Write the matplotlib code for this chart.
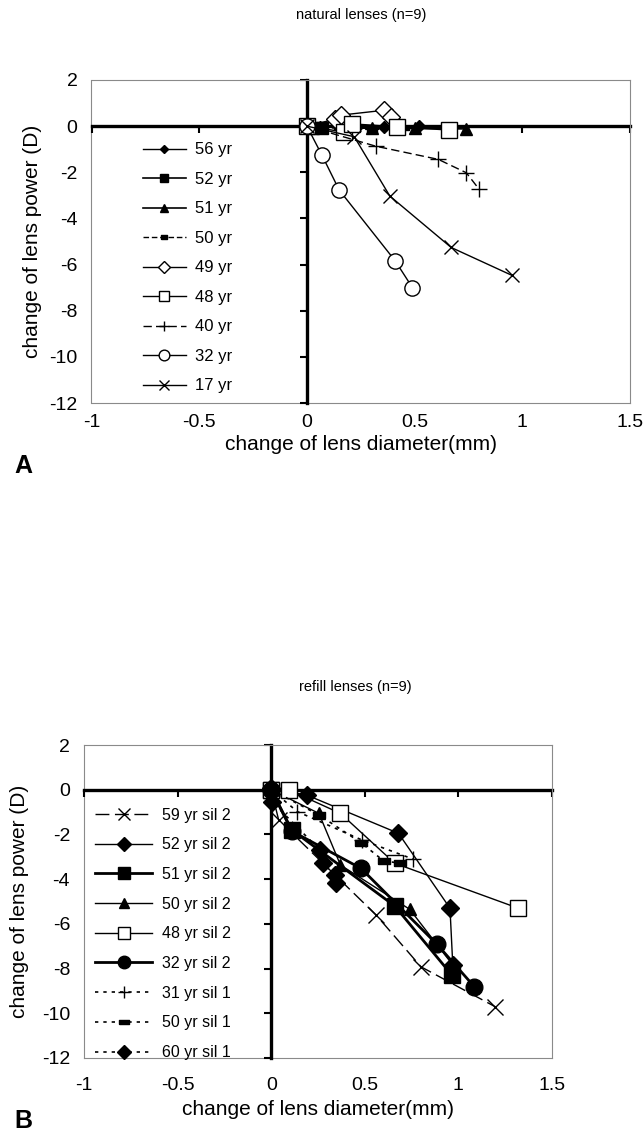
import numpy as np
import matplotlib.pyplot as plt
from matplotlib.path import Path

plt.rcParams['font.family'] = ['Liberation Sans', 'DejaVu Sans']

# ---- данные: A, натуральные хрусталики ----
nat_labels = ['56 yr', '52 yr', '51 yr', '50 yr', '49 yr', '48 yr', '40 yr', '32 yr', '17 yr']
nat_dx = [
    [0, 0.06, 0.2, 0.36, 0.52],
    [0, 0.03, 0.07],
    [0, 0.3, 0.5, 0.74],
    [0, 0.15, 0.3, 0.45],
    [0, 0.13, 0.16, 0.36, 0.39],
    [0, 0.17, 0.21, 0.42, 0.66],
    [0, 0.32, 0.61, 0.74, 0.80],
    [0, 0.07, 0.15, 0.41, 0.49],
    [0, 0.22, 0.385, 0.67, 0.95],
]
nat_dp = [
    [0, -0.05, -0.05, -0.05, 0.0],
    [0, -0.1, -0.1],
    [0, -0.1, -0.1, -0.12],
    [0, -0.1, -0.15, -0.1],
    [0, 0.3, 0.48, 0.69, 0.4],
    [0, -0.25, 0.1, -0.03, -0.17],
    [0, -0.87, -1.44, -2.02, -2.74],
    [0, -1.26, -2.77, -5.84, -7.0],
    [0, -0.46, -3.03, -5.26, -6.46],
]

# ---- данные: B, заполненные силиконом ----
ref_labels = ['59 yr sil 2', '52 yr sil 2', '51 yr sil 2', '50 yr sil 2', '48 yr sil 2',
              '32 yr sil 2', '31 yr sil 1', '50 yr sil 1', '60 yr sil 1']
ref_dx = [
    [0, 0.04, 0.56, 0.80, 1.195],
    [0, 0.19, 0.68, 0.955, 0.97],
    [0, 0.11, 0.66, 0.965],
    [0, 0.255, 0.37, 0.74, 0.97],
    [0, 0.095, 0.37, 0.66, 1.32],
    [0, 0.11, 0.48, 0.885, 1.085],
    [0, 0.14, 0.485, 0.76],
    [0, 0.255, 0.48, 0.6, 0.69],
    [0, 0.005, 0.26, 0.275, 0.34, 0.345],
]
ref_dp = [
    [0, -1.36, -5.6, -7.92, -9.7],
    [0.05, -0.24, -1.95, -5.3, -7.84],
    [0, -1.8, -5.2, -8.29],
    [0, -1.06, -3.37, -5.35, -7.84],
    [0, -0.01, -1.06, -3.29, -5.3],
    [0, -1.85, -3.52, -6.91, -8.81],
    [0, -0.98, -2.25, -3.11],
    [0, -1.13, -2.37, -3.18, -3.29],
    [0.06, -0.54, -2.70, -3.29, -3.81, -4.19],
]

x_ticks = [-1, -0.5, 0, 0.5, 1, 1.5]
y_ticks = [2, 0, -2, -4, -6, -8, -10, -12]

# плоский прямоугольный маркер
bar = Path([(-1, -0.45), (1, -0.45), (1, 0.45), (-1, 0.45), (-1, -0.45)])

nat_styles = [
    dict(marker='D', mfc='k', ms=6, ls='-', lw=1),
    dict(marker='s', mfc='k', ms=8, ls='-', lw=1.2),
    dict(marker='^', mfc='k', ms=8, ls='-', lw=1.2),
    dict(marker=bar, mfc='k', ms=7, ls=(0, (4, 2)), lw=1),
    dict(marker='D', mfc='w', ms=9, ls='-', lw=1),
    dict(marker='s', mfc='w', ms=11, ls='-', lw=1),
    dict(marker='+', mfc='k', ms=11, ls=(0, (6, 3)), lw=1),
    dict(marker='o', mfc='w', ms=11, ls='-', lw=1),
    dict(marker='x', mfc='k', ms=10, ls='-', lw=1),
]
ref_styles = [
    dict(marker='x', mfc='k', ms=11, ls=(0, (10, 4)), lw=1),
    dict(marker='D', mfc='k', ms=9, ls='-', lw=1),
    dict(marker='s', mfc='k', ms=12, ls='-', lw=2),
    dict(marker='^', mfc='k', ms=9, ls='-', lw=1),
    dict(marker='s', mfc='w', ms=12, ls='-', lw=1),
    dict(marker='o', mfc='k', ms=12, ls='-', lw=2),
    dict(marker='+', mfc='k', ms=12, ls=(0, (2, 3)), lw=1.2),
    dict(marker=bar, mfc='k', ms=9, ls=(0, (2, 3)), lw=1.2),
    dict(marker='D', mfc='k', ms=9, ls=(0, (2, 3)), lw=1.2),
]


def setup(ax, tpad, lpad, ypad):
    ax.set_xlim(-1, 1.5)
    ax.set_ylim(-12, 2)
    ax.spines['left'].set_position(('data', 0))
    ax.spines['bottom'].set_position(('data', 0))
    for s in ('left', 'bottom'):
        ax.spines[s].set_linewidth(2.4)
        ax.spines[s].set_zorder(1)
    for s in ('top', 'right'):
        ax.spines[s].set_color('#8a8a8a')
        ax.spines[s].set_linewidth(0.8)
    ax.set_xticks(x_ticks)
    ax.set_yticks(y_ticks)
    ax.tick_params(direction='out', length=5, width=1.5, labelleft=False, labelbottom=False)
    sx = ax.secondary_xaxis('bottom')
    sx.set_xticks(x_ticks, labels=[f'{v:g}' for v in x_ticks])
    sx.tick_params(length=0, labelsize=14, pad=tpad)
    sx.spines['bottom'].set_color('#8a8a8a')
    sx.spines['bottom'].set_linewidth(0.8)
    sy = ax.secondary_yaxis('left')
    sy.set_yticks(y_ticks, labels=[f'{v:g}' for v in y_ticks])
    sy.tick_params(length=0, labelsize=14, pad=10)
    sy.spines['left'].set_color('#8a8a8a')
    sy.spines['left'].set_linewidth(0.8)
    sx.set_xlabel('change of lens diameter(mm)', fontsize=15, labelpad=lpad)
    sy.set_ylabel('change of lens power (D)', fontsize=15, labelpad=ypad)
    return sx, sy


fig = plt.figure(figsize=(6.44, 11.33), dpi=100)
W, H = 644, 1133

# ---- A ----
axA = fig.add_axes([91.5 / W, 1 - 403 / H, 538.5 / W, 323 / H])
setup(axA, 8, 3, 5)
for lab, xs, ys, st in zip(nat_labels, nat_dx, nat_dp, nat_styles):
    axA.plot(xs, ys, color='k', mec='k', mew=1, label=lab, clip_on=False, zorder=3, **st)
axA.legend(loc='upper left', bbox_to_anchor=(0.095, 0.807), frameon=False, fontsize=12,
           handlelength=2.6, handletextpad=0.55, labelspacing=0.87, borderpad=0,
           borderaxespad=0, markerscale=0.7)
fig.text(361 / W, 1 - 15 / H, 'natural lenses (n=9)', ha='center', va='center', fontsize=10.5)
fig.text(14 / W, 1 - 466 / H, 'A', ha='left', va='center', fontsize=18, fontweight='bold')

# ---- B ----
axB = fig.add_axes([84 / W, 1 - 1058 / H, 468 / W, 313 / H])
setup(axB, 14, 4, 9)
for lab, xs, ys, st in zip(ref_labels, ref_dx, ref_dp, ref_styles):
    axB.plot(xs, ys, color='k', mec='k', mew=1, label=lab, clip_on=False, zorder=3, **st)
axB.legend(loc='upper left', bbox_to_anchor=(0.0235, 0.80), frameon=False, fontsize=11.5,
           handlelength=3.6, handletextpad=0.6, labelspacing=0.92, borderpad=0,
           borderaxespad=0, markerscale=0.75)
fig.text(355 / W, 1 - 687 / H, 'refill lenses (n=9)', ha='center', va='center', fontsize=10.5)
fig.text(14 / W, 1 - 1133 / H, 'B', ha='left', va='bottom', fontsize=18, fontweight='bold')

fig.savefig('out.png', dpi=100)
